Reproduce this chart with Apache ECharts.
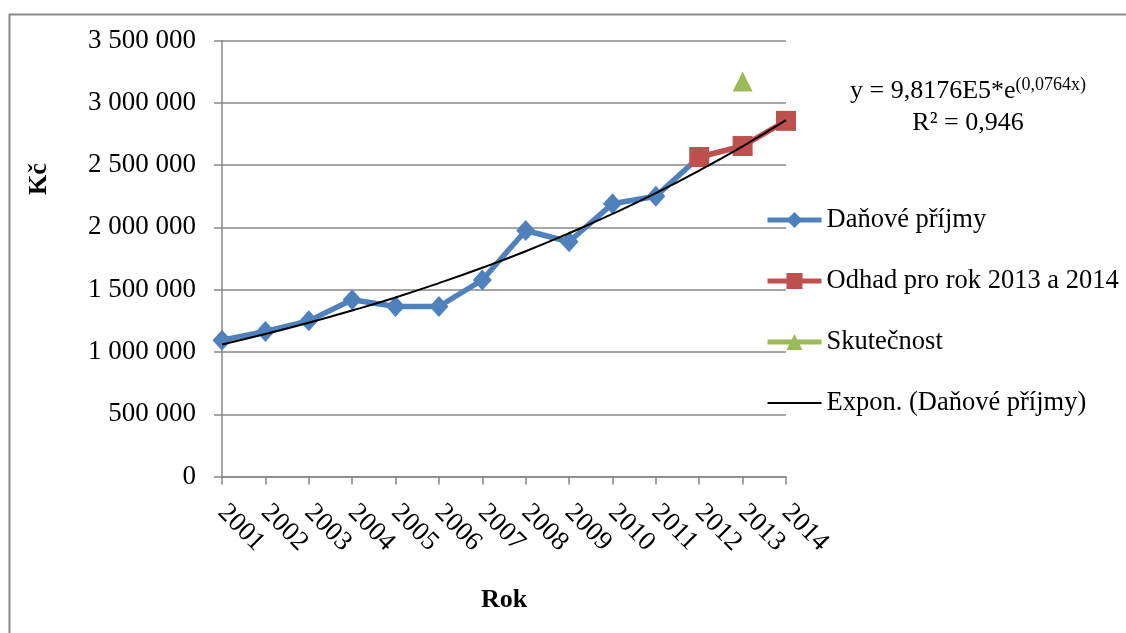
<!DOCTYPE html>
<html>
<head>
<meta charset="utf-8">
<script src="https://cdn.jsdelivr.net/npm/echarts@6/dist/echarts.min.js"></script>
<style>
html,body{margin:0;padding:0;background:#fff;}
#chart{width:1126px;height:633px;}
</style>
</head>
<body>
<div id="chart"></div>
<script>
// ---- data ----
const years = ['2001','2002','2003','2004','2005','2006','2007','2008','2009','2010','2011','2012','2013','2014'];
const danovePrijmy = [1095000,1165000,1250000,1420000,1365000,1365000,1578000,1975000,1885000,2190000,2250000,2565000,null,null];
const odhad = [null,null,null,null,null,null,null,null,null,null,null,2565000,2653000,2855000];
const skutecnost = [null,null,null,null,null,null,null,null,null,null,null,null,3170000,null];
const exponTrend = [1060000,1144000,1235000,1333000,1438000,1553000,1676000,1809000,1953000,2108000,2275000,2456000,2651000,2861000];
const yTicks = {min:0, max:3500000, interval:500000};
const equationMain = 'y = 9,8176E5*e';
const equationSup = '(0,0764x)';
const rSquared = 'R² = 0,946';

const FONT = '"Liberation Serif", "Times New Roman", serif';
const GRID_COLOR = '#878787';

function fmt(v){
  return String(v).replace(/\B(?=(\d{3})+(?!\d))/g, ' ');
}

const chart = echarts.init(document.getElementById('chart'), null, {renderer:'canvas'});
chart.setOption({
  animation:false,
  backgroundColor:'#ffffff',
  grid:{left:222, right:340, top:40.5, bottom:156.4, containLabel:false},
  legend:{
    orient:'vertical',
    left:760, top:200,
    itemWidth:54, itemHeight:20, itemGap:31,
    lineStyle:{width:5},
    textStyle:{fontFamily:FONT, fontSize:26.5, color:'#000', lineHeight:30},
    data:[
      {name:'Daňové příjmy'},
      {name:'Odhad pro rok 2013 a 2014'},
      {name:'Skutečnost'},
      {name:'Expon. (Daňové příjmy)', itemStyle:{color:'rgba(0,0,0,0)', opacity:0, borderWidth:0}, lineStyle:{width:2, color:'#000'}}
    ]
  },
  xAxis:{
    type:'category',
    data:years,
    boundaryGap:false,
    name:'Rok',
    nameLocation:'middle',
    nameGap:111,
    nameTextStyle:{fontFamily:FONT, fontSize:26, fontWeight:'bold', color:'#000'},
    axisLine:{lineStyle:{color:GRID_COLOR, width:1.5}},
    axisTick:{show:true, alignWithLabel:true, length:8, lineStyle:{color:GRID_COLOR, width:1.5}},
    axisLabel:{rotate:-45, margin:32, fontFamily:FONT, fontSize:27, color:'#000', interval:0},
    splitLine:{show:false}
  },
  yAxis:{
    type:'value',
    min:yTicks.min, max:yTicks.max, interval:yTicks.interval,
    axisLine:{show:true, lineStyle:{color:GRID_COLOR, width:1.5}},
    axisTick:{show:true, length:8, lineStyle:{color:GRID_COLOR, width:1.5}},
    axisLabel:{margin:26, fontFamily:FONT, fontSize:27, color:'#000', formatter:fmt},
    splitLine:{show:true, lineStyle:{color:GRID_COLOR, width:1.5}}
  },
  series:[
    {
      name:'Daňové příjmy', type:'line', data:danovePrijmy,
      symbol:'diamond', symbolSize:[19,21],
      lineStyle:{color:'#4F81BD', width:5.5},
      itemStyle:{color:'#4F81BD'},
      z:2
    },
    {
      name:'Odhad pro rok 2013 a 2014', type:'line', data:odhad,
      symbol:'rect', symbolSize:20,
      lineStyle:{color:'#C0504D', width:5.5},
      itemStyle:{color:'#C0504D'},
      z:3
    },
    {
      name:'Skutečnost', type:'line', data:skutecnost,
      symbol:'triangle', symbolSize:20,
      lineStyle:{color:'#9BBB59', width:5},
      itemStyle:{color:'#9BBB59'},
      z:3
    },
    {
      name:'Expon. (Daňové příjmy)', type:'line', data:exponTrend,
      symbol:'none', smooth:true,
      lineStyle:{color:'#000000', width:2},
      itemStyle:{color:'#000000'},
      z:5
    }
  ],
  graphic:[
    {type:'rect', left:7, top:12, z:-10, silent:true,
     shape:{x:0,y:0,width:2000,height:2000},
     style:{fill:'none', stroke:'#888888', lineWidth:2}},
    {type:'text', x:39, y:179, rotation:Math.PI/2,
     style:{text:'Kč', fontFamily:FONT, fontSize:26, fontWeight:'bold', fill:'#000', align:'center', verticalAlign:'middle'}},
    {type:'text', x:968, y:91,
     style:{text:'{m|'+equationMain+'}{s|'+equationSup+'}', align:'center', verticalAlign:'middle',
       rich:{
         m:{fontFamily:FONT, fontSize:26, fill:'#000', lineHeight:30},
         s:{fontFamily:FONT, fontSize:18, fill:'#000', lineHeight:16, verticalAlign:'top'}
       }}},
    {type:'text', x:968, y:123,
     style:{text:rSquared, fontFamily:FONT, fontSize:26, fill:'#000', align:'center', verticalAlign:'middle'}}
  ]
});
</script>
</body>
</html>
